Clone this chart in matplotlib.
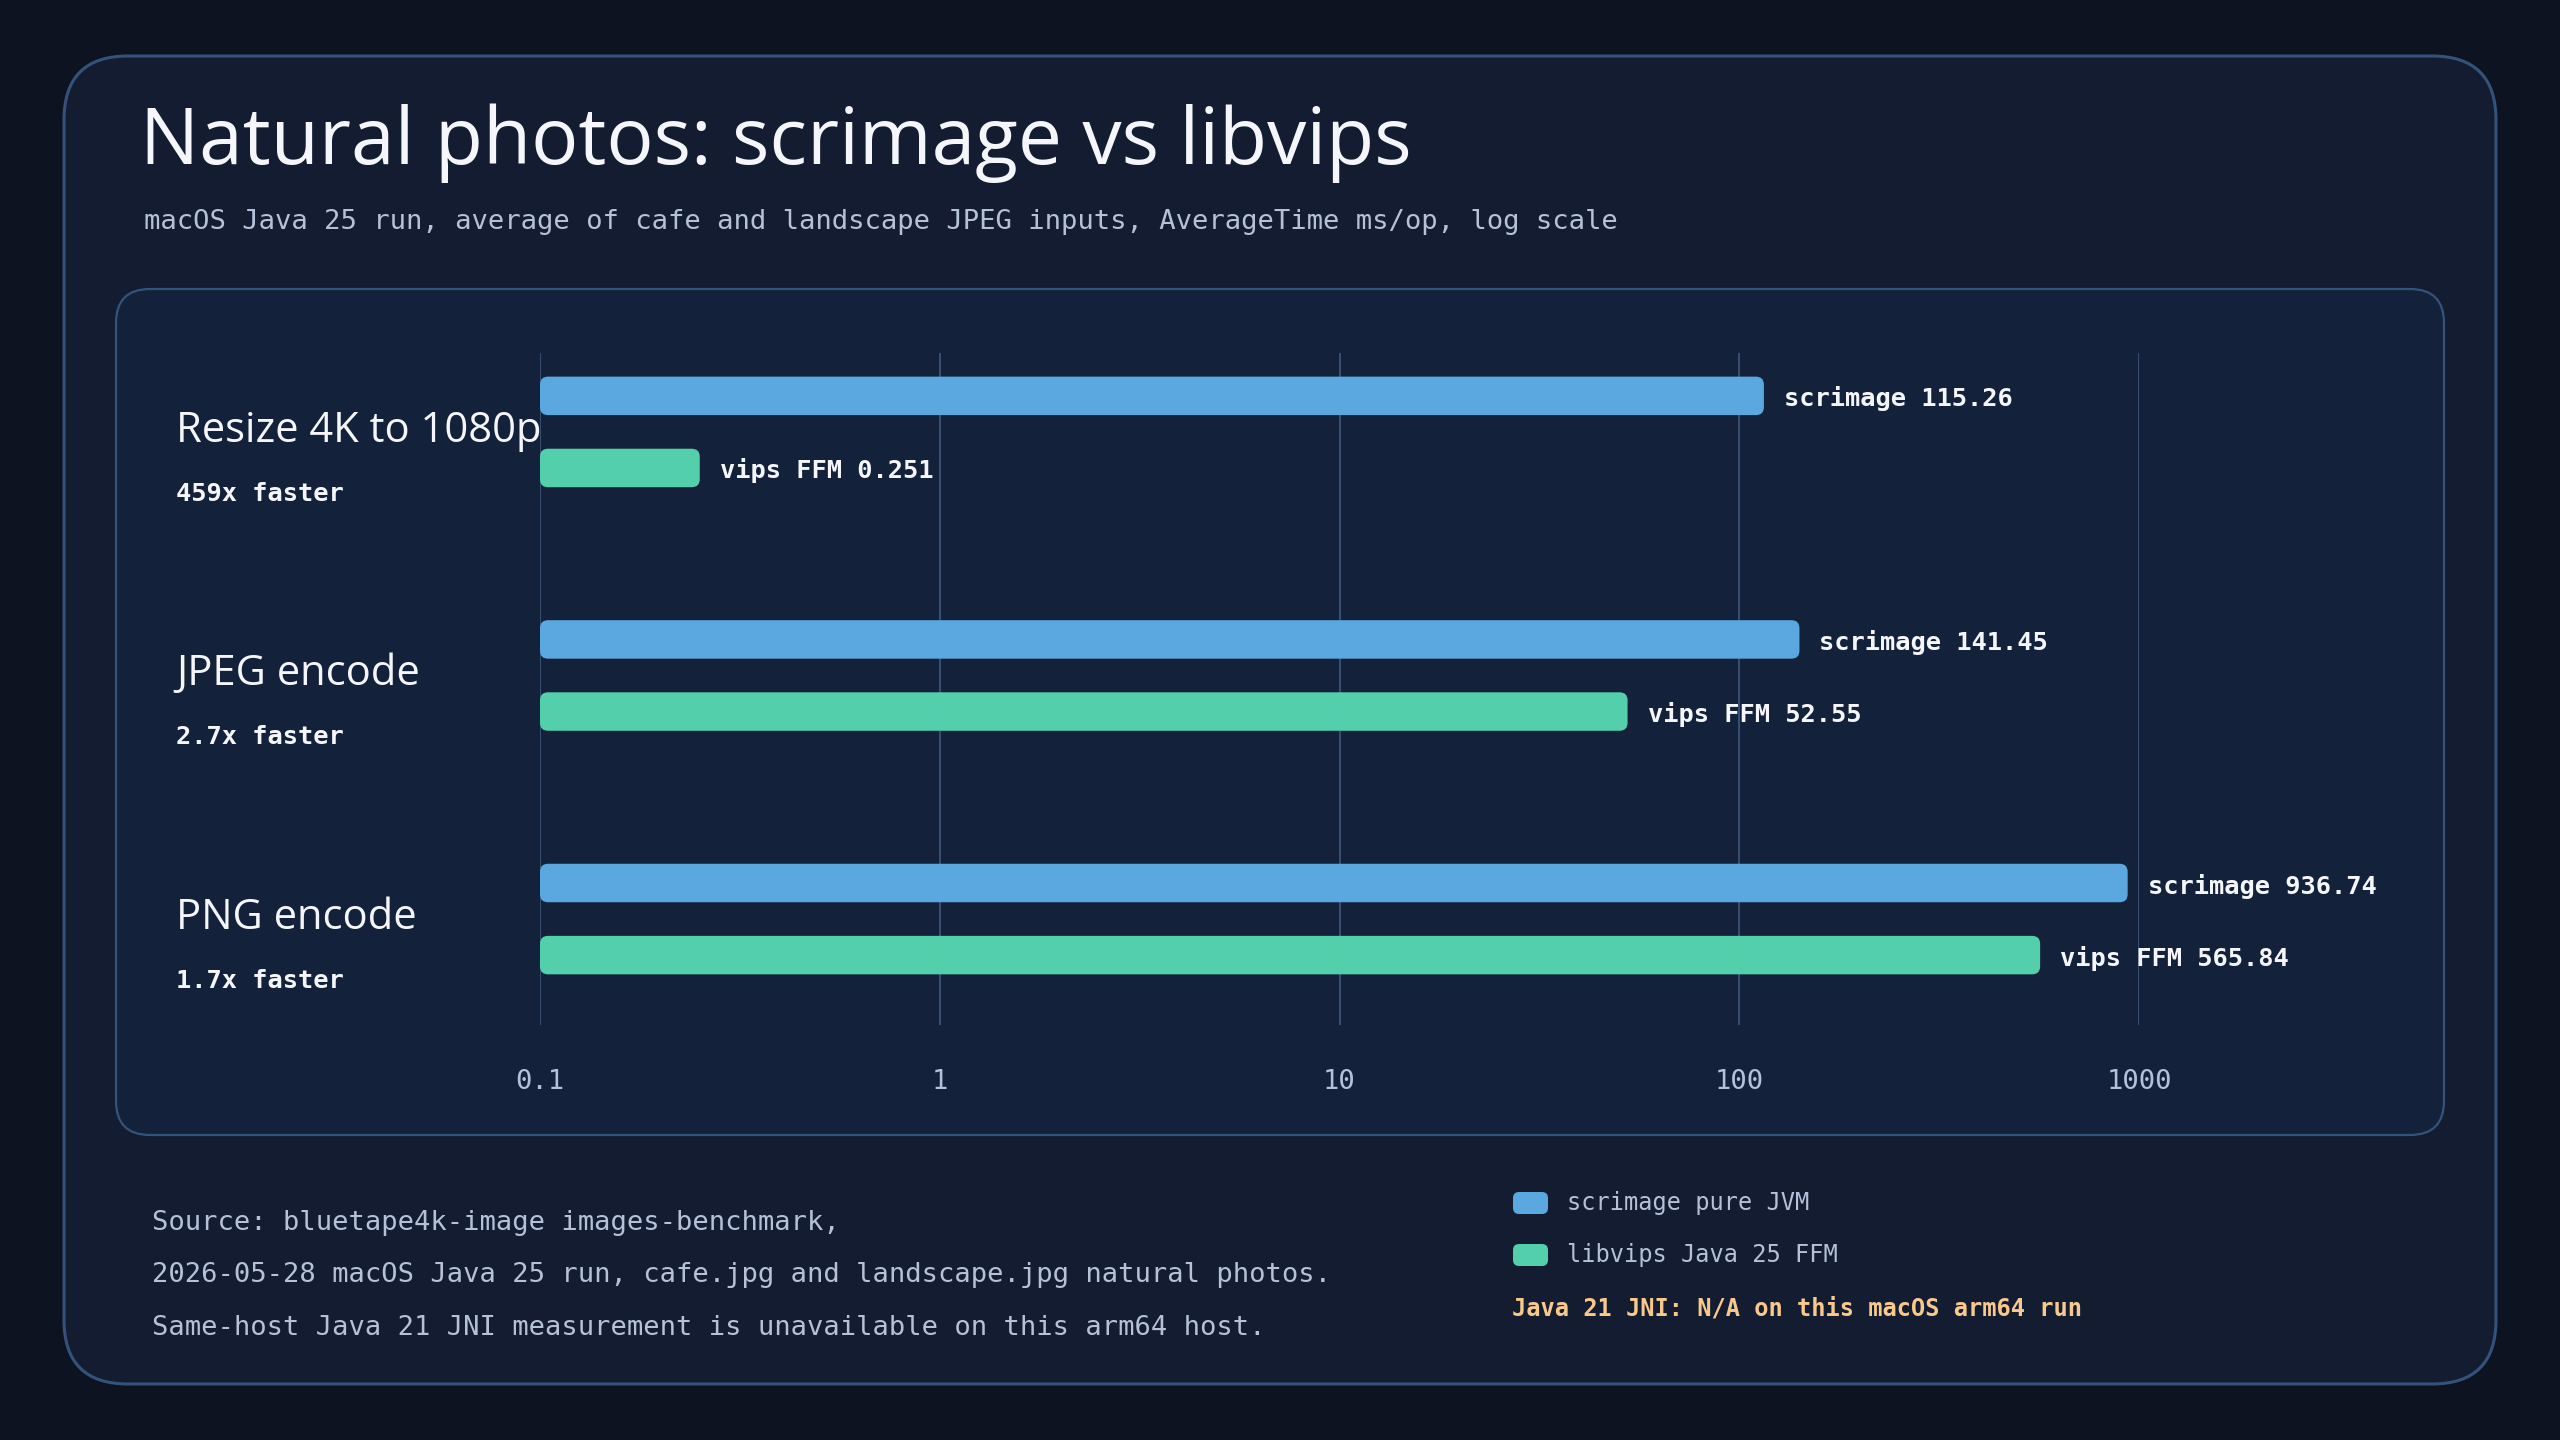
import matplotlib
matplotlib.use("Agg")
import matplotlib.pyplot as plt
from matplotlib.patches import FancyBboxPatch
from matplotlib.transforms import IdentityTransform

# ---------------- data ----------------
categories = ["Resize 4K to 1080p", "JPEG encode", "PNG encode"]
speedup_labels = ["459x faster", "2.7x faster", "1.7x faster"]
scrimage_ms = [115.26, 141.45, 936.74]
vips_ms = [0.251, 52.55, 565.84]
scrimage_text = ["115.26", "141.45", "936.74"]
vips_text = ["0.251", "52.55", "565.84"]
tick_values = [0.1, 1, 10, 100, 1000]
tick_labels = ["0.1", "1", "10", "100", "1000"]
legend_labels = ["scrimage pure JVM", "libvips Java 25 FFM"]
note_text = "Java 21 JNI: N/A on this macOS arm64 run"
title = "Natural photos: scrimage vs libvips"
subtitle = "macOS Java 25 run, average of cafe and landscape JPEG inputs, AverageTime ms/op, log scale"
source_lines = [
    "Source: bluetape4k-image images-benchmark,",
    "2026-05-28 macOS Java 25 run, cafe.jpg and landscape.jpg natural photos.",
    "Same-host Java 21 JNI measurement is unavailable on this arm64 host.",
]

# ---------------- style ----------------
W, H = 2560, 1440
BG = "#0d1320"
CARD = "#131c30"
INNER = "#14213a"
BORDER = "#34527a"
GRID = "#385073"
BLUE = "#5ba7e0"
GREEN = "#53cfac"
WHITE = "#f4f6fb"
MUTED = "#b4c1d9"
ORANGE = "#f8c98c"
SANS = ["Open Sans", "DejaVu Sans"]
MONO = ["DejaVu Sans Mono"]

fig = plt.figure(figsize=(W / 100, H / 100), dpi=100, facecolor=BG)
ID = IdentityTransform()


def px(y):
    return H - y


def rbox(x0, y0, x1, y1, r, fc, ec, lw, z):
    p = FancyBboxPatch((x0, px(y1)), x1 - x0, y1 - y0,
                       boxstyle=f"round,pad=0,rounding_size={r}",
                       fc=fc, ec=ec, lw=lw, transform=ID, zorder=z)
    fig.patches.append(p)
    p.set_figure(fig)


# cards
rbox(64, 56, 2496, 1384, 64, CARD, BORDER, 2.2, -10)
rbox(116, 289, 2444, 1135, 34, INNER, BORDER, 1.6, -9)

# titles
fig.text(140, px(164), title, transform=ID, fontsize=56.5, color=WHITE,
         family=SANS, va="baseline", ha="left")
fig.text(144, px(222), subtitle, transform=ID, fontsize=19.6, color=MUTED,
         family=MONO, va="center", ha="left")

# ---------------- bar axes ----------------
ax_x0, ax_x1 = 540, 2139
ax_y0, ax_y1 = 353, 1025
ax = fig.add_axes([ax_x0 / W, (H - ax_y1) / H, (ax_x1 - ax_x0) / W, (ax_y1 - ax_y0) / H])
ax.set_zorder(1)
ax.set_facecolor("none")
ax.set_xscale("log")
ax.set_xlim(tick_values[0], tick_values[-1])
n = len(categories)
ax.set_ylim(n - 1 + 0.435, -0.324)
for s in ax.spines.values():
    s.set_visible(False)
ax.set_xticks(tick_values)
ax.set_xticklabels(tick_labels)
ax.xaxis.set_minor_locator(matplotlib.ticker.NullLocator())
ax.tick_params(axis="x", length=0, pad=32, colors=MUTED, labelsize=19.5)
for lab in ax.get_xticklabels():
    lab.set_family(MONO)
ax.set_yticks([])
ax.grid(axis="x", color=GRID, lw=1.4)
ax.set_axisbelow(True)

off = 0.148
bh = 0.158
base = tick_values[0]
series = [(scrimage_ms, scrimage_text, BLUE, -off, "scrimage"),
          (vips_ms, vips_text, GREEN, off, "vips FFM")]
for vals, texts, col, dy, name in series:
    bars = ax.barh([i + dy for i in range(n)], [v - base for v in vals], height=bh,
                   left=base, color=col, alpha=0)
    for b, v, t in zip(bars, vals, texts):
        (x0, y0), (x1, y1) = ax.transData.transform(
            [(b.get_x(), b.get_y()), (b.get_x() + b.get_width(), b.get_y() + b.get_height())])
        ylo, yhi = min(y0, y1), max(y0, y1)
        p = FancyBboxPatch((x0, ylo), x1 - x0, yhi - ylo,
                           boxstyle="round,pad=0,rounding_size=8",
                           fc=col, ec="none", transform=ID, zorder=3)
        fig.patches.append(p)
        p.set_figure(fig)
        ax.annotate(f"{name} {t}",
                    xy=(v, b.get_y() + b.get_height() / 2), xytext=(20, -3),
                    textcoords="offset pixels", va="center", ha="left",
                    fontsize=18.3, color=WHITE, family=MONO, fontweight="bold",
                    annotation_clip=False, zorder=5)

# category labels
for i, (cat, sp) in enumerate(zip(categories, speedup_labels)):
    yc = ax.transData.transform((1, i))[1]
    fig.text(176, yc + 1, cat, transform=ID, fontsize=30, color=WHITE,
             family=SANS, va="center", ha="left")
    fig.text(176, yc - 62, sp, transform=ID, fontsize=18.3, color=WHITE,
             family=MONO, fontweight="bold", va="center", ha="left")

# source
for k, line in enumerate(source_lines):
    fig.text(152, px(1223 + 52.5 * k), line, transform=ID, fontsize=19.5, color=MUTED,
             family=MONO, va="center", ha="left")

# legend
for k, (lab, col) in enumerate(zip(legend_labels, [BLUE, GREEN])):
    yc = 1203 + 52 * k
    p = FancyBboxPatch((1513, px(yc + 11)), 35, 22,
                       boxstyle="round,pad=0,rounding_size=6",
                       fc=col, ec="none", transform=ID)
    fig.patches.append(p)
    p.set_figure(fig)
    fig.text(1567, px(yc), lab, transform=ID, fontsize=17, color=MUTED,
             family=MONO, va="center", ha="left")
fig.text(1512, px(1308), note_text, transform=ID, fontsize=17, color=ORANGE,
         family=MONO, fontweight="bold", va="center", ha="left")

fig.savefig("out.png", dpi=100, facecolor=BG)
